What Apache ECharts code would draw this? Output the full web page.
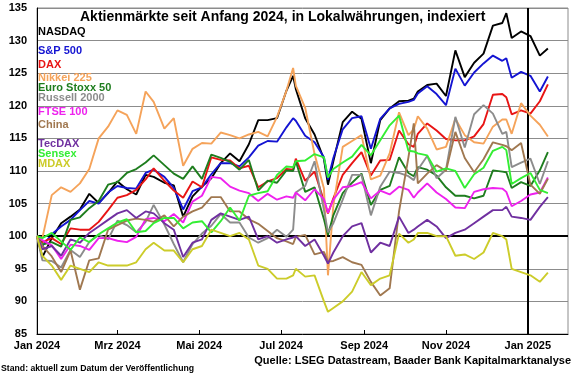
<!DOCTYPE html>
<html lang="de">
<head>
<meta charset="UTF-8">
<title>Aktienmärkte seit Anfang 2024</title>
<script src="https://cdn.jsdelivr.net/npm/echarts@6/dist/echarts.min.js"></script>
<style>
  html, body { margin: 0; padding: 0; background: #fff; }
  #main { width: 580px; height: 375px; }
</style>
</head>
<body>
<div id="main"></div>
<script>
// Stichtage (wöchentlich, Index 100 = Jahresanfang 2024)
var dates = ['2024-01-01','2024-01-05','2024-01-12','2024-01-19','2024-01-26',
  '2024-02-02','2024-02-09','2024-02-16','2024-02-23',
  '2024-03-01','2024-03-08','2024-03-15','2024-03-22','2024-03-28',
  '2024-04-05','2024-04-12','2024-04-19','2024-04-26',
  '2024-05-03','2024-05-10','2024-05-17','2024-05-24','2024-05-31',
  '2024-06-07','2024-06-14','2024-06-21','2024-06-28',
  '2024-07-05','2024-07-10','2024-07-12','2024-07-19','2024-07-26',
  '2024-08-02','2024-08-05','2024-08-09','2024-08-16','2024-08-23','2024-08-30',
  '2024-09-06','2024-09-13','2024-09-20','2024-09-27',
  '2024-10-04','2024-10-08','2024-10-11','2024-10-18','2024-10-25',
  '2024-11-01','2024-11-08','2024-11-15','2024-11-22','2024-11-29',
  '2024-12-06','2024-12-13','2024-12-16','2024-12-20','2024-12-27',
  '2025-01-03','2025-01-10','2025-01-16'];

var nasdaq = [100, 96.8, 99.7, 102.0, 103.0,
  104.1, 106.5, 105.1, 106.6,
  108.4, 107.2, 106.4, 109.4, 109.1,
  108.2, 107.8, 103.0, 106.1,
  107.6, 108.9, 111.2, 112.7, 111.5,
  114.1, 117.8, 117.8, 118.1,
  122.3, 124.6, 122.6, 118.1, 115.6,
  111.8, 107.9, 111.5, 117.5, 119.1, 118.0,
  111.2, 117.8, 119.6, 120.7,
  120.8, 121.1, 122.2, 123.2, 123.4,
  121.5, 128.5, 124.4, 126.6, 128.0,
  132.3, 132.7, 134.2, 130.4, 131.4,
  130.7, 127.7, 128.8];

var sp500 = [100, 98.5, 100.3, 101.5, 102.5,
  104.0, 105.4, 105.0, 106.7,
  107.7, 107.4, 107.3, 109.7, 110.2,
  109.1, 107.4, 104.1, 106.9,
  107.5, 109.5, 111.2, 111.2, 110.7,
  112.1, 113.9, 114.6, 114.5,
  116.7, 118.1, 117.7, 115.4, 114.4,
  112.1, 108.7, 112.0, 116.4, 118.1, 118.4,
  113.4, 118.0, 119.6, 120.3,
  120.6, 120.9, 121.9, 123.0, 121.8,
  120.1, 125.7, 123.1, 125.1, 126.5,
  127.7, 126.9, 127.3, 124.3, 125.2,
  124.6, 122.2, 124.5];

var dax = [100, 99.1, 99.7, 98.8, 101.2,
  101.0, 101.0, 102.2, 104.0,
  105.9, 106.3, 107.1, 108.7, 110.4,
  108.5, 107.0, 105.9, 108.4,
  107.5, 112.1, 111.7, 111.6, 110.4,
  110.8, 107.5, 108.4, 108.9,
  110.3, 110.2, 111.9, 108.5, 109.9,
  105.4, 103.5, 105.8, 109.4, 111.2, 112.9,
  109.3, 111.6, 111.7, 116.2,
  114.1, 113.7, 115.7, 117.3, 116.2,
  114.9, 114.7, 114.7, 115.3, 117.2,
  121.7, 121.8, 121.3, 118.7, 119.3,
  118.8, 120.7, 123.3];

var nikkei = [100, 99.7, 106.3, 107.5, 106.8,
  108.1, 110.3, 115.0, 116.8,
  119.3, 118.6, 115.7, 122.2, 120.6,
  116.5, 118.1, 110.8, 113.4,
  114.3, 114.2, 115.9, 115.5, 115.0,
  115.6, 116.0, 115.3, 118.3,
  122.3, 125.8, 123.1, 119.7, 112.6,
  107.3, 94.0, 104.7, 113.7, 114.6, 115.5,
  108.7, 109.3, 112.7, 119.0,
  115.5, 116.4, 118.4, 116.5, 113.3,
  113.7, 118.0, 115.5, 114.4, 114.2,
  116.8, 117.9, 117.9, 115.7, 120.4,
  118.5, 117.1, 115.3];

var euroStoxx = [100, 98.7, 99.1, 98.4, 102.5,
  102.9, 104.3, 105.4, 107.9,
  108.3, 109.7, 110.3, 111.3, 112.4,
  110.9, 109.6, 108.8, 110.7,
  108.8, 112.5, 112.0, 111.4, 110.2,
  111.7, 107.0, 108.5, 108.2,
  110.1, 110.0, 111.5, 106.8, 107.5,
  102.6, 100.2, 103.2, 106.6, 108.2, 109.6,
  104.8, 107.1, 107.7, 112.1,
  109.7, 109.2, 110.6, 110.2, 109.3,
  107.5, 106.2, 106.2, 105.8, 106.2,
  110.1, 109.9, 109.8, 107.4, 108.3,
  107.7, 110.1, 112.9];

var russell = [100, 96.3, 96.2, 95.2, 97.9,
  96.8, 99.1, 100.2, 99.5,
  102.4, 101.7, 100.6, 102.2, 104.8,
  101.8, 98.8, 96.0, 98.8,
  100.4, 101.6, 103.4, 102.1, 102.1,
  99.8, 99.0, 99.7, 101.0,
  99.9, 101.0, 106.7, 107.7, 111.5,
  104.0, 100.6, 102.0, 105.6, 109.4, 109.4,
  103.2, 107.6, 109.9, 109.7,
  109.2, 108.6, 110.2, 112.3, 108.9,
  110.2, 118.3, 113.6, 118.7, 120.1,
  118.8, 115.7, 116.0, 110.6, 111.3,
  111.9, 108.0, 111.5];

var ftse = [100, 99.4, 98.6, 96.5, 98.7,
  98.5, 97.9, 99.7, 99.7,
  99.3, 99.1, 99.9, 102.6, 102.8,
  102.3, 103.4, 102.1, 105.3,
  106.2, 109.1, 108.9, 107.6, 107.0,
  106.6, 105.4, 106.5, 105.6,
  106.1, 105.9, 106.7, 105.5, 107.2,
  105.7, 103.6, 105.6, 107.5, 107.7, 108.3,
  105.8, 107.0, 106.4, 107.6,
  107.1, 105.9, 106.7, 108.1, 106.7,
  105.7, 104.4, 104.3, 106.8, 107.2,
  107.4, 107.3, 106.8, 104.6, 105.4,
  106.4, 106.7, 109.0];

var china = [100, 98.5, 96.9, 94.5, 97.8,
  91.8, 96.3, 96.6, 101.0,
  101.7, 102.4, 102.7, 102.5, 102.2,
  103.2, 101.5, 103.0, 103.8,
  104.4, 106.0, 106.0, 103.8, 103.8,
  102.6, 101.9, 100.8, 99.7,
  99.2, 98.8, 99.9, 100.2, 97.2,
  97.6, 96.1, 96.2, 96.8, 96.0, 95.6,
  93.0, 90.9, 92.0, 103.8,
  112.1, 117.3, 108.1, 109.6, 110.9,
  110.0, 116.0, 112.0, 109.8, 111.8,
  114.4, 114.0, 113.8, 113.2, 114.3,
  107.9, 106.5, 108.8];

var tecdax = [100, 98.0, 98.5, 97.0, 99.5,
  99.0, 100.5, 101.5, 102.5,
  103.5, 104.0, 102.8, 103.8, 103.5,
  102.0, 101.0, 96.8, 99.0,
  99.5, 102.5, 103.5, 103.0, 102.5,
  103.0, 99.5, 100.0, 99.0,
  99.5, 99.8, 100.0, 98.5, 99.5,
  97.0, 95.8, 97.5, 100.0, 101.5, 102.0,
  97.5, 99.0, 98.5, 103.0,
  100.5, 101.0, 101.5, 102.5, 101.5,
  99.7, 100.5, 101.0, 102.0, 103.0,
  104.0, 104.0, 104.5, 103.0, 102.8,
  102.5, 104.5, 106.0];

var sensex = [100, 99.7, 100.5, 99.2, 97.9,
  99.8, 99.1, 100.3, 101.2,
  102.1, 102.6, 100.6, 100.8, 102.0,
  102.8, 102.8, 101.2, 102.1,
  102.3, 100.6, 102.3, 104.4, 102.4,
  106.2, 106.6, 106.9, 109.4,
  110.7, 110.6, 111.5, 111.6, 112.6,
  112.1, 109.0, 110.3, 111.3, 112.2, 114.0,
  112.4, 114.7, 117.0, 118.5,
  113.1, 113.0, 112.7, 112.4, 109.9,
  110.4, 110.0, 107.4, 109.5, 110.5,
  113.1, 113.7, 113.2, 108.0, 108.9,
  109.7, 107.1, 106.6];

var mdax = [100, 97.0, 95.5, 93.3, 95.5,
  95.0, 94.5, 96.0, 95.5,
  95.5, 95.5, 96.0, 98.0, 99.0,
  97.8, 97.8, 96.0, 98.0,
  98.5, 101.0, 100.5, 100.0, 100.5,
  99.5, 95.5, 95.0, 93.5,
  93.5, 94.0, 95.0, 93.8, 94.0,
  90.0, 88.4, 89.0, 90.0, 91.5, 94.5,
  92.5, 93.5, 94.0, 100.4,
  99.0, 99.5, 100.5, 100.5, 100.0,
  100.0, 97.0, 97.2, 96.5, 97.5,
  100.5, 100.0, 99.5, 95.0, 94.5,
  94.0, 93.0, 94.4];

var seriesNames = ['NASDAQ', 'S&P 500', 'DAX', 'Nikkei 225', 'Euro Stoxx 50', 'Russell 2000',
  'FTSE 100', 'China', 'TecDAX', 'Sensex', 'MDAX'];
var seriesColors = ['#000000', '#1414d2', '#e81414', '#f5a35a', '#1e7d1e', '#8c8c8c',
  '#ee22ee', '#a07850', '#7030a0', '#33ee33', '#cccc2a'];
var allValues = [nasdaq, sp500, dax, nikkei, euroStoxx, russell, ftse, china, tecdax, sensex, mdax];

var tickDates = ['2024-01-01', '2024-03-01', '2024-05-01', '2024-07-01', '2024-09-01', '2024-11-01', '2025-01-01'];
var tickLabels = ['Jan 2024', 'Mrz 2024', 'Mai 2024', 'Jul 2024', 'Sep 2024', 'Nov 2024', 'Jan 2025'];
var yTicks = [85, 90, 95, 100, 105, 110, 115, 120, 125, 130, 135];

// Tage seit 1.1.2024
function dayOf(s) {
  return Math.round((Date.parse(s) - Date.parse('2024-01-01')) / 86400000);
}
var tickDays = tickDates.map(dayOf);
var font = '"Liberation Sans", Arial, sans-serif';

var chart = echarts.init(document.getElementById('main'), null, { renderer: 'canvas' });

var series = seriesNames.map(function (name, i) {
  return {
    name: name,
    type: 'line',
    data: dates.map(function (d, k) { return [dayOf(d), allValues[i][k]]; }),
    showSymbol: false,
    symbol: 'none',
    lineStyle: { color: seriesColors[i], width: 1.9 },
    itemStyle: { color: seriesColors[i] },
    animation: false,
    z: 2 + i
  };
});

// Linie bei 100 und Jahreswechsel
series[series.length - 1].markLine = {
  silent: true,
  symbol: 'none',
  label: { show: false },
  animation: false,
  lineStyle: { color: '#000', width: 2, type: 'solid' },
  data: [{ yAxis: 100 }, { xAxis: dayOf('2025-01-01') }]
};

// Legende als farbige Texte
var legendY = [33, 52, 66, 79, 89, 99, 113, 126, 145, 155, 165];
var graphics = seriesNames.map(function (name, i) {
  return {
    type: 'text', left: 38, top: legendY[i] - 7, z: 100,
    style: { text: name, fill: seriesColors[i], font: 'bold 11px ' + font }
  };
});
graphics.push({
  type: 'text', left: 80, top: 10, z: 100,
  style: { text: 'Aktienmärkte seit Anfang 2024, in Lokalwährungen, indexiert', fill: '#000', font: 'bold 14px ' + font }
});
graphics.push({
  type: 'text', right: 9, top: 355, z: 100,
  style: { text: 'Quelle: LSEG Datastream, Baader Bank Kapitalmarktanalyse', fill: '#000', font: 'bold 11px ' + font }
});
graphics.push({
  type: 'text', left: 1, top: 364, z: 100,
  style: { text: 'Stand: aktuell zum Datum der Veröffentlichung', fill: '#000', font: 'bold 8.7px ' + font }
});

var option = {
  animation: false,
  backgroundColor: '#fff',
  grid: { left: 37, right: 12, top: 8, bottom: 41, show: true, borderColor: '#8c8c8c', borderWidth: 1 },
  xAxis: {
    type: 'value',
    min: 0,
    max: 396,
    interval: 61,
    axisLine: { show: true, lineStyle: { color: '#000', width: 1 } },
    axisTick: { show: true, inside: true, length: 4, customValues: tickDays, lineStyle: { color: '#000' } },
    axisLabel: {
      customValues: tickDays,
      margin: 6,
      color: '#000',
      fontFamily: font,
      fontWeight: 'bold',
      fontSize: 11,
      formatter: function (v) {
        for (var i = 0; i < tickDays.length; i++) {
          if (Math.abs(tickDays[i] - v) <= 1) return tickLabels[i];
        }
        return '';
      }
    },
    splitLine: { show: false }
  },
  yAxis: {
    type: 'value',
    min: yTicks[0],
    max: yTicks[yTicks.length - 1],
    interval: 5,
    axisLine: { show: true, lineStyle: { color: '#000', width: 1 } },
    axisTick: { show: false },
    axisLabel: { margin: 10, color: '#000', fontFamily: font, fontWeight: 'bold', fontSize: 11 },
    splitLine: { show: true, lineStyle: { color: '#8c8c8c', width: 1 } }
  },
  graphic: graphics,
  series: series
};

chart.setOption(option);
</script>
</body>
</html>
